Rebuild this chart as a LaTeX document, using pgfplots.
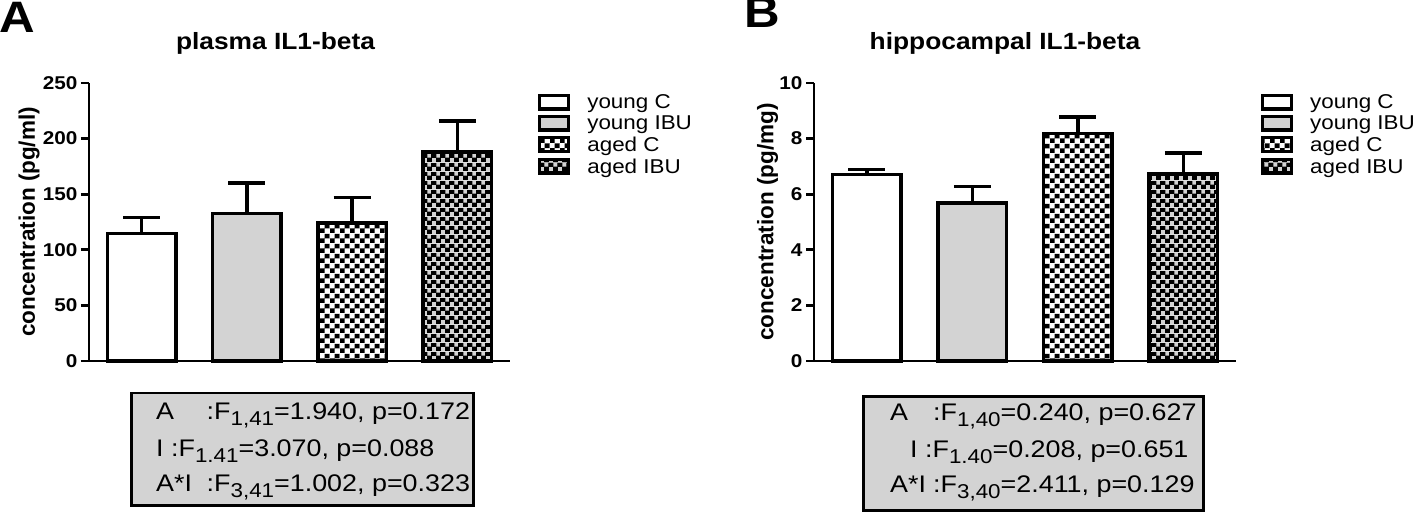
\documentclass[border=0pt]{standalone}
\usepackage{pgfplots}
\pgfplotsset{compat=1.18}
\usepackage{fontspec}
\setmainfont{Liberation Sans}[FakeStretch=1.12]
\newfontfamily\labfont{Liberation Sans}
\usetikzlibrary{patterns}
\definecolor{lgray}{RGB}{211,211,211}

\pgfdeclarepatterninherentlycolored{checkBW}{\pgfpointorigin}{\pgfqpoint{10pt}{10pt}}{\pgfqpoint{10pt}{10pt}}{%
 \pgfsetfillcolor{white}\pgfpathrectangle{\pgfpointorigin}{\pgfqpoint{10pt}{10pt}}\pgfusepath{fill}%
 \pgfsetfillcolor{black}\pgfpathrectangle{\pgfpointorigin}{\pgfqpoint{5pt}{5pt}}\pgfpathrectangle{\pgfqpoint{5pt}{5pt}}{\pgfqpoint{5pt}{5pt}}\pgfusepath{fill}}
\pgfdeclarepatterninherentlycolored{checkBG}{\pgfpointorigin}{\pgfqpoint{9pt}{9pt}}{\pgfqpoint{9pt}{9pt}}{%
 \pgfsetfillcolor{black}\pgfpathrectangle{\pgfpointorigin}{\pgfqpoint{9pt}{9pt}}\pgfusepath{fill}%
 \pgfsetfillcolor{lgray}\pgfpathrectangle{\pgfqpoint{0.25pt}{0.25pt}}{\pgfqpoint{4pt}{4pt}}\pgfpathrectangle{\pgfqpoint{4.75pt}{4.75pt}}{\pgfqpoint{4pt}{4pt}}\pgfusepath{fill}}

\newcommand\sub[1]{\raisebox{-6pt}{\fontsize{20}{20}\selectfont #1}}

\pgfplotsset{
 mybar/.style={ybar, bar width=68.5pt, bar shift=0pt, draw=black, line width=3.5pt,
   legend image code/.code={\draw[##1, line width=3.3pt] (1.5pt,-6.5pt) rectangle (30.5pt,7pt);},
   error bars/y dir=plus, error bars/y explicit,
   error bars/error bar style={line width=3.5pt, black, solid},
   error bars/error mark options={rotate=90, line width=3.5pt, mark size=18.5pt, black, solid}},
 panel/.style={scale only axis, height=278pt, xmin=-0.5, xmax=3.5, ymin=0,
   axis x line*=bottom, axis y line*=left, axis line style={line width=2.7pt, black},
   xtick=\empty, tick align=outside, major tick length=8pt,
   y tick style={line width=2.7pt, black},
   /pgf/number format/assume math mode=true,
   yticklabel style={font=\bfseries\fontsize{18.5}{20}\selectfont},
   ylabel style={font=\labfont\bfseries\fontsize{22.5}{27}\selectfont, anchor=center},
   clip=false, anchor=south west,
   legend style={draw=none, fill=none, anchor=north west,
     font=\fontsize{20}{24}\selectfont, row sep=1.7pt,
     /tikz/every odd column/.append style={column sep=15pt}},
   legend cell align=left}
}

\begin{document}
\begin{tikzpicture}[x=1pt,y=1pt]
\useasboundingbox (0,0) rectangle (1418,513);

\begin{axis}[panel, at={(89pt,152pt)}, width=421pt, ymax=250, ytick={0,50,...,250},
  ylabel={concentration (pg/ml)}, ylabel style={at={(axis description cs:-0.1425,0.5)}},
  legend style={at={(axis description cs:1.059,0.973)}}]
\addplot[mybar, fill=white] coordinates {(0,114.5) +- (0,14.5)};
\addlegendentry{young C}
\addplot[mybar, fill=lgray] coordinates {(1,132.5) +- (0,27.5)};
\addlegendentry{young IBU}
\addplot[mybar, pattern=checkBW] coordinates {(2,124) +- (0,23)};
\addlegendentry{aged C}
\addplot[mybar, pattern=checkBG] coordinates {(3,188) +- (0,28)};
\addlegendentry{aged IBU}
\end{axis}

\begin{axis}[panel, at={(814pt,152pt)}, width=422pt, ymax=10, ytick={0,2,...,10},
  ylabel={concentration (pg/mg)}, ylabel style={at={(axis description cs:-0.110,0.5)}},
  legend style={at={(axis description cs:1.0515,0.973)}}]
\addplot[mybar, fill=white] coordinates {(0,6.7) +- (0,0.18)};
\addlegendentry{young C}
\addplot[mybar, fill=lgray] coordinates {(1,5.68) +- (0,0.6)};
\addlegendentry{young IBU}
\addplot[mybar, pattern=checkBW] coordinates {(2,8.18) +- (0,0.6)};
\addlegendentry{aged C}
\addplot[mybar, pattern=checkBG] coordinates {(3,6.72) +- (0,0.77)};
\addlegendentry{aged IBU}
\end{axis}

\node[anchor=base west, font=\bfseries\fontsize{44}{44}\selectfont, inner sep=0pt] at (-1,480) {A};
\node[anchor=base west, font=\bfseries\fontsize{44}{44}\selectfont, inner sep=0pt] at (744,485) {B};
\node[anchor=base, font=\bfseries\fontsize{23.5}{28}\selectfont, inner sep=0pt] at (275.5,463) {plasma IL1-beta};
\node[anchor=base, font=\bfseries\fontsize{23.5}{28}\selectfont, inner sep=0pt] at (1005,463) {hippocampal IL1-beta};

\draw[line width=2.7pt, fill=lgray] (131.35,7.5) rectangle (473.65,120);
\begin{scope}[every node/.style={anchor=base west, inner sep=0pt, font=\fontsize{24}{30}\selectfont}]
\node at (156,93.3) {\makebox[50.5pt][l]{A}:F\sub{1,41}=1.940, p=0.172};
\node at (156,56.7) {I :F\sub{1.41}=3.070, p=0.088};
\node at (156,21.7) {\makebox[50.5pt][l]{A*I}:F\sub{3,41}=1.002, p=0.323};
\end{scope}

\draw[line width=2.7pt, fill=lgray] (863.35,2.5) rectangle (1203.65,116.75);
\begin{scope}[every node/.style={anchor=base west, inner sep=0pt, font=\fontsize{24}{30}\selectfont}]
\node at (890,92) {\makebox[43pt][l]{A}:F\sub{1,40}=0.240, p=0.627};
\node at (910,55.5) {I :F\sub{1.40}=0.208, p=0.651};
\node at (890,20) {\makebox[43pt][l]{A*I}:F\sub{3,40}=2.411, p=0.129};
\end{scope}
\end{tikzpicture}
\end{document}
